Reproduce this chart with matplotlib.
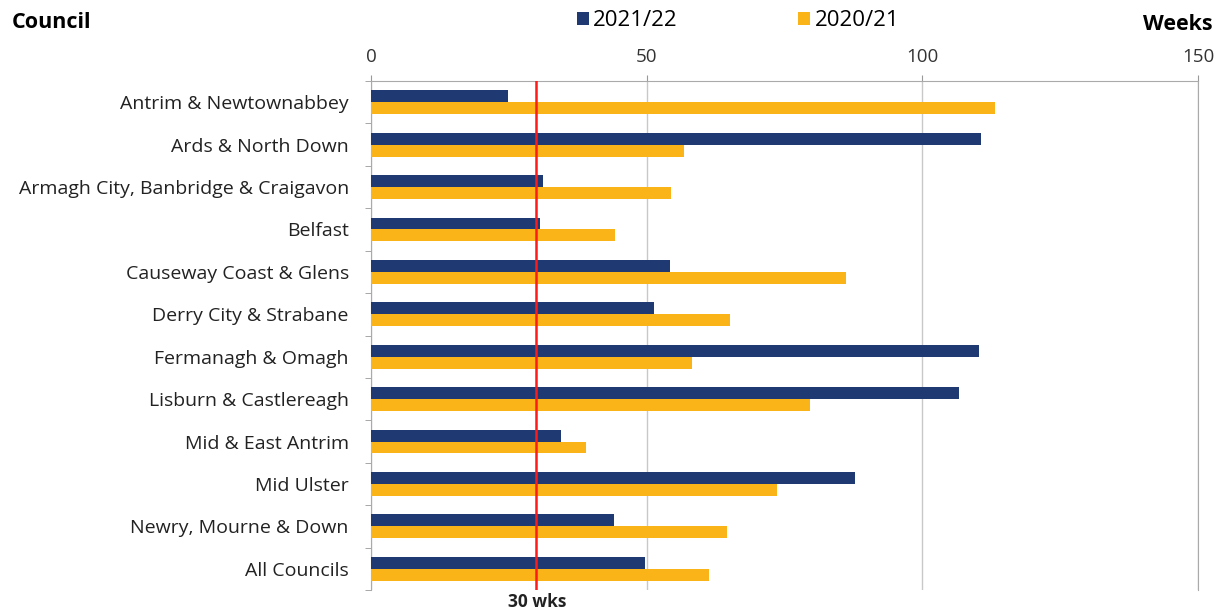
import numpy as np
import matplotlib.pyplot as plt

plt.rcParams['font.family'] = ['Open Sans', 'DejaVu Sans']

councils = ['Antrim & Newtownabbey', 'Ards & North Down', 'Armagh City, Banbridge & Craigavon',
            'Belfast', 'Causeway Coast & Glens', 'Derry City & Strabane', 'Fermanagh & Omagh',
            'Lisburn & Castlereagh', 'Mid & East Antrim', 'Mid Ulster', 'Newry, Mourne & Down',
            'All Councils']
weeks_2122 = [24.9, 110.7, 31.2, 30.7, 54.3, 51.4, 110.2, 106.7, 34.5, 87.8, 44.1, 49.7]
weeks_2021 = [113.2, 56.8, 54.4, 44.3, 86.2, 65.2, 58.3, 79.7, 39.0, 73.7, 64.6, 61.3]
target = 30

navy = '#1f3a73'
gold = '#fbb417'

fig = plt.figure(figsize=(12.21, 6.13), dpi=100)
ax = fig.add_axes([371/1221, 1 - 590/613, (1198-371)/1221, (590-81)/613])

y = np.arange(len(councils))
h = 0.28
ax.barh(y - h/2, weeks_2122, height=h, color=navy, label='2021/22', zorder=3)
ax.barh(y + h/2, weeks_2021, height=h, color=gold, label='2020/21', zorder=3)
ax.axvline(target, color='#ff1a1a', lw=1.8, zorder=4)

ax.set_xlim(0, 150)
ax.set_ylim(len(councils) - 0.5, -0.5)
ax.set_xticks([0, 50, 100, 150])
ax.xaxis.tick_top()
ax.tick_params(axis='x', length=4, color='#999999', labelsize=13.5, labelcolor='#333333', pad=7)
ax.set_yticks(y)
ax.set_yticklabels(councils, fontsize=14, color='#222222')
ax.tick_params(axis='y', length=0, pad=16)
ax.set_yticks(np.arange(len(councils) + 1) - 0.5, minor=True)
ax.tick_params(axis='y', which='minor', length=4, color='#999999')
ax.grid(axis='x', color='#c8c8c8', lw=1, zorder=0)
for s in ['top', 'left', 'right']:
    ax.spines[s].set_color('#aaaaaa')
ax.spines['bottom'].set_visible(False)

fig.text(12/1221, 1 - 22/613, 'Council', fontsize=15.5, fontweight='bold', va='center', ha='left')
fig.text(1213/1221, 1 - 25/613, 'Weeks', fontsize=15.5, fontweight='bold', va='center', ha='right')
fig.text(537/1221, 1 - 602/613, '30 wks', ha='center', va='center',
         fontsize=12.5, fontweight='bold', color='#222222')

fig.legend(loc='center', bbox_to_anchor=(738/1221, 1 - 21/613), ncol=2, frameon=False,
           fontsize=16, handlelength=0.55, handleheight=0.55, columnspacing=5.4, handletextpad=0.2)

fig.savefig('out.png', dpi=100)
